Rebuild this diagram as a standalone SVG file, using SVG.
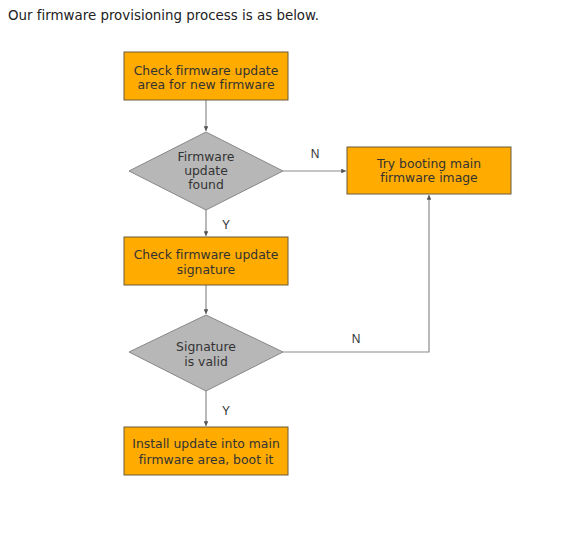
<svg xmlns="http://www.w3.org/2000/svg" width="576" height="544" viewBox="0 0 576 544">
<defs>
<style>
.box{fill:#ffab00;stroke:#6b5a3a;stroke-width:1}
.dia{fill:#b7b7b7;stroke:#888;stroke-width:1}
.t{font-family:"DejaVu Sans",Verdana,sans-serif;font-size:12.4px;fill:#333;text-anchor:middle;font-variant-ligatures:none}
.lbl{font-family:"Liberation Sans",Arial,sans-serif;font-size:12px;fill:#333;text-anchor:middle}
.c{fill:none;stroke:#8a8a8a;stroke-width:1.2}
</style>
<marker id="ah" viewBox="0 0 6 6" refX="6" refY="3" markerWidth="4" markerHeight="4" orient="auto">
<path d="M0,0 L6,3 L0,6 z" fill="#555"/>
</marker>
</defs>
<rect width="576" height="544" fill="#fff"/>
<text x="8" y="20" font-family="DejaVu Sans,Verdana,sans-serif" font-size="13.4" fill="#222" style="font-variant-ligatures:none">Our firmware provisioning process is as below.</text>
<g id="connectors">
<path class="c" d="M206,100 V131" marker-end="url(#ah)"/>
<path class="c" d="M283,171 H346" marker-end="url(#ah)"/>
<path class="c" d="M206,210 V236" marker-end="url(#ah)"/>
<path class="c" d="M206,285 V314" marker-end="url(#ah)"/>
<path class="c" d="M283,352 H429 V195" marker-end="url(#ah)"/>
<path class="c" d="M206,391 V426" marker-end="url(#ah)"/>
<text class="lbl" x="315" y="158">N</text>
<text class="lbl" x="226" y="229">Y</text>
<text class="lbl" x="356" y="343">N</text>
<text class="lbl" x="226" y="415">Y</text>
</g>
<g id="n1">
<rect class="box" x="124" y="52" width="164" height="48"/>
<text class="t" x="206" y="75">Check firmware update</text>
<text class="t" x="206" y="89">area for new firmware</text>
</g>
<g id="n2">
<polygon class="dia" points="206,132 283,171 206,210 129,171"/>
<text class="t" x="206" y="161">Firmware</text>
<text class="t" x="206" y="175">update</text>
<text class="t" x="206" y="189">found</text>
</g>
<g id="n3">
<rect class="box" x="347" y="147" width="164" height="47"/>
<text class="t" x="429" y="168">Try booting main</text>
<text class="t" x="429" y="182">firmware image</text>
</g>
<g id="n4">
<rect class="box" x="124" y="237" width="164" height="48"/>
<text class="t" x="206" y="259">Check firmware update</text>
<text class="t" x="206" y="274">signature</text>
</g>
<g id="n5">
<polygon class="dia" points="206,315 283,352 206,391 129,352"/>
<text class="t" x="206" y="351">Signature</text>
<text class="t" x="206" y="366">is valid</text>
</g>
<g id="n6">
<rect class="box" x="124" y="427" width="164" height="48"/>
<text class="t" x="206" y="448">Install update into main</text>
<text class="t" x="206" y="464">firmware area, boot it</text>
</g>
</svg>
